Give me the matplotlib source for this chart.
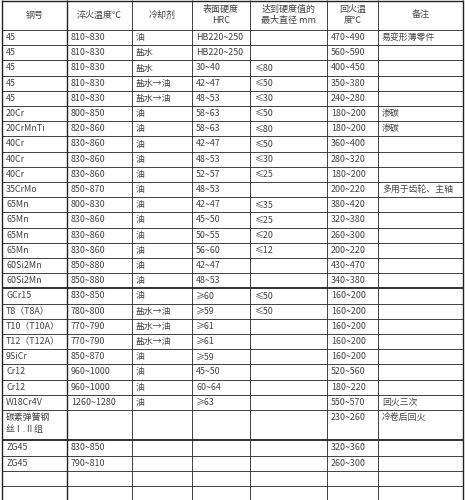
import matplotlib.pyplot as plt

plt.rcParams['font.family'] = ['Noto Sans CJK SC', 'DejaVu Sans']

# table contents
headers = ['钢号', '淬火温度℃', '冷却剂', '表面硬度\nHRC', '达到硬度值的\n最大直径 mm', '回火温\n度℃', '备注']
steel = ['45', '45', '45', '45', '45', '20Cr', '20CrMnTi', '40Cr', '40Cr', '40Cr', '35CrMo',
         '65Mn', '65Mn', '65Mn', '65Mn', '60Si2Mn', '60Si2Mn', 'GCr15', 'T8（T8A）', 'T10（T10A）',
         'T12（T12A）', '9SiCr', 'Cr12', 'Cr12', 'W18Cr4V', '碳素弹簧钢\n丝Ⅰ.Ⅱ组', 'ZG45', 'ZG45', '', '']
quench = ['810~830'] * 5 + ['800~850', '820~860', '830~860', '830~860', '830~860', '850~870',
          '800~830', '830~860', '830~860', '830~860', '850~880', '850~880', '830~850', '780~800',
          '770~790', '770~790', '850~870', '960~1000', '960~1000', '1260~1280', '', '830~850', '790~810', '', '']
coolant = ['油', '盐水', '盐水', '盐水→油', '盐水→油'] + ['油'] * 12 + ['油', '盐水→油', '盐水→油', '盐水→油',
           '油', '油', '油', '油', '', '', '', '', '']
hardness = ['HB220~250', 'HB220~250', '30~40', '42~47', '48~53', '58~63', '58~63', '42~47', '48~53',
            '52~57', '48~53', '42~47', '45~50', '50~55', '56~60', '42~47', '48~53', '≥60', '≥59',
            '≥61', '≥61', '≥59', '45~50', '60~64', '≥63', '', '', '', '', '']
diameter = ['', '', '≤80', '≤50', '≤30', '≤50', '≤80', '≤50', '≤30', '≤25', '', '≤35', '≤25', '≤20',
            '≤12', '', '', '≤50', '≤50', '', '', '', '', '', '', '', '', '', '', '']
temper = ['470~490', '560~590', '400~450', '350~380', '240~280', '180~200', '180~200', '360~400',
          '280~320', '180~200', '200~220', '380~420', '320~380', '260~300', '200~220', '430~470',
          '340~380', '160~200', '160~200', '160~200', '160~200', '160~200', '520~560', '180~220',
          '550~570', '230~260', '320~360', '260~300', '', '']
note = ['易变形薄零件', '', '', '', '', '渗碳', '渗碳', '', '', '', '多用于齿轮、主轴'] + [''] * 13 + \
       ['回火三次', '冷卷后回火', '', '', '', '']

cols = [steel, quench, coolant, hardness, diameter, temper, note]
xb = [2, 67, 132, 192, 250, 327, 378, 463]
row_h = 15.2
heights = [2 if '\n' in s else 1 for s in steel]

fig = plt.figure(figsize=(4.65, 5.0), dpi=100)
ax = fig.add_axes([0, 0, 1, 1])
ax.set_xlim(0, 465)
ax.set_ylim(500, 0)
ax.axis('off')
tc = '#444444'

for i, h in enumerate(headers):
    ax.text((xb[i] + xb[i + 1]) / 2, 15, h, ha='center', va='center', fontsize=6.5,
            color=tc, linespacing=1.4)

y = 30
ys = [y]
for r, hgt in enumerate(heights):
    for c, col in enumerate(cols):
        txt = col[r]
        if txt:
            ax.text(xb[c] + 4, y + 7.6 if hgt == 1 else y + 3, txt,
                    ha='left', va='center' if hgt == 1 else 'top', fontsize=6.4,
                    color=tc, linespacing=1.5)
    y += row_h * hgt
    ys.append(y)

thick = {ys[17], ys[26]}
ax.hlines(0.6, xb[0], xb[-1], color='#222222', lw=1.0)
for yy in ys:
    ax.hlines(yy, xb[0], xb[-1], color='#222222', lw=1.3 if yy in thick else 0.6)
for i, xx in enumerate(xb):
    ax.vlines(xx, 0, ys[-1], color='#222222', lw=1.0 if i in (0, 1, 7) else 0.6)

fig.savefig('out.png', dpi=100, facecolor='white')
